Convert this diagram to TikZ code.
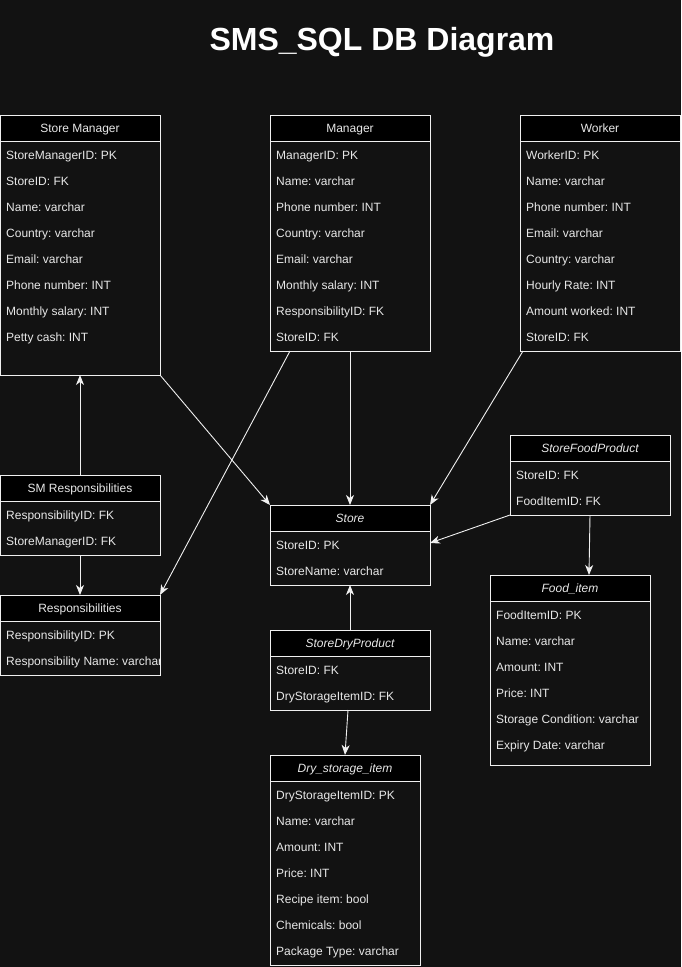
\documentclass[tikz,border=0pt]{standalone}
\usepackage{fontspec}
\setmainfont{Liberation Sans}
\usetikzlibrary{arrows.meta}
\frenchspacing

\definecolor{bgcol}{HTML}{121212}
\definecolor{inkcol}{HTML}{F0F0F0}
\definecolor{txtcol}{HTML}{E8E8E8}

\tikzset{
  tblbox/.style={draw=inkcol, line width=1pt, fill=bgcol, inner sep=0pt, outer sep=0pt},
  tblhead/.style={draw=inkcol, line width=1pt, fill=black, text=txtcol, inner sep=0pt, outer sep=0pt,
    minimum height=26pt, text height=8.6pt, text depth=0pt, font=\fontsize{12}{14}\selectfont},
  tblrow/.style={text=txtcol, inner sep=0pt, text height=8.6pt, text depth=0pt,
    font=\fontsize{12}{14}\selectfont},
  link/.style={draw=inkcol, line width=0.9pt, -{Stealth[length=10pt,width=8pt,inset=3pt]}},
  heading/.style={text=white, inner sep=0pt, text height=23pt, text depth=0pt,
    font=\fontsize{32}{38}\selectfont\bfseries}
}

% #1 name, #2 left, #3 top, #4 width, #5 height, #6 title, #7 rows
\newcommand\ertable[7]{%
  \node[tblbox, minimum width=#4pt, minimum height=#5pt, anchor=north west] (#1) at (#2,#3) {};
  \node[tblhead, minimum width=#4pt, anchor=north west] (#1-h) at (#2,#3) {#6};
  \begin{scope}
    \clip (#2,#3) rectangle ++(#4-1,#5);
    \foreach \r [count=\i] in {#7}
      \node[tblrow, anchor=west] (#1-r\i) at (#2+6, #3+14+26*\i) {\r};
  \end{scope}
}

\begin{document}
\begin{tikzpicture}[x=1pt, y=-1pt]
  \fill[bgcol] (0,0) rectangle (681,967);
  \useasboundingbox (0,0) rectangle (681,967);

  \node[heading] (title) at (382,39) {SMS\_SQL DB Diagram};

  \ertable{sm}{0}{115}{160}{260}{Store Manager}{StoreManagerID: PK, StoreID: FK, Name: varchar, Country: varchar, Email: varchar, Phone number: INT, Monthly salary: INT, Petty cash: INT}
  \ertable{mgr}{270}{115}{160}{236}{Manager}{ManagerID: PK, Name: varchar, Phone number: INT, Country: varchar, Email: varchar, Monthly salary: INT, ResponsibilityID: FK, StoreID: FK}
  \ertable{wrk}{520}{115}{160}{236}{Worker}{WorkerID: PK, Name: varchar, Phone number: INT, Email: varchar, Country: varchar, Hourly Rate: INT, Amount worked: INT, StoreID: FK}
  \ertable{smr}{0}{475}{160}{80}{SM Responsibilities}{ResponsibilityID: FK, StoreManagerID: FK}
  \ertable{resp}{0}{595}{160}{80}{Responsibilities}{ResponsibilityID: PK, Responsibility Name: varchar}
  \ertable{store}{270}{505}{160}{80}{\itshape Store}{StoreID: PK, StoreName: varchar}
  \ertable{sfp}{510}{435}{160}{80}{\itshape StoreFoodProduct}{StoreID: FK, FoodItemID: FK}
  \ertable{food}{490}{575}{160}{190}{\itshape Food\_item}{FoodItemID: PK, Name: varchar, Amount: INT, Price: INT, Storage Condition: varchar, Expiry Date: varchar}
  \ertable{sdp}{270}{630}{160}{80}{\itshape StoreDryProduct}{StoreID: FK, DryStorageItemID: FK}
  \ertable{dry}{270}{755}{150}{210}{\itshape Dry\_storage\_item}{DryStorageItemID: PK, Name: varchar, Amount: INT, Price: INT, Recipe item: bool, Chemicals: bool, Package Type: varchar}

  % relationships
  \draw[link] (sm.south east) -- (store.north west);
  \draw[link] ([xshift=20pt]mgr.south west) -- (resp.north east);
  \draw[link] (mgr.south) -- (store.north);
  \draw[link] ([xshift=3pt]wrk.south west) -- (store.north east);
  \draw[link] (sfp.south west) -- ([yshift=2pt]store.east);
  \draw[link] (sfp.south) -- ([xshift=19pt]food.north);
  \draw[link] (smr.north) -- (sm.south);
  \draw[link] (smr.south) -- (resp.north);
  \draw[link] (sdp.north) -- (store.south);
  \draw[link] ([xshift=-2pt]sdp.south) -- (dry.north);
\end{tikzpicture}
\end{document}
